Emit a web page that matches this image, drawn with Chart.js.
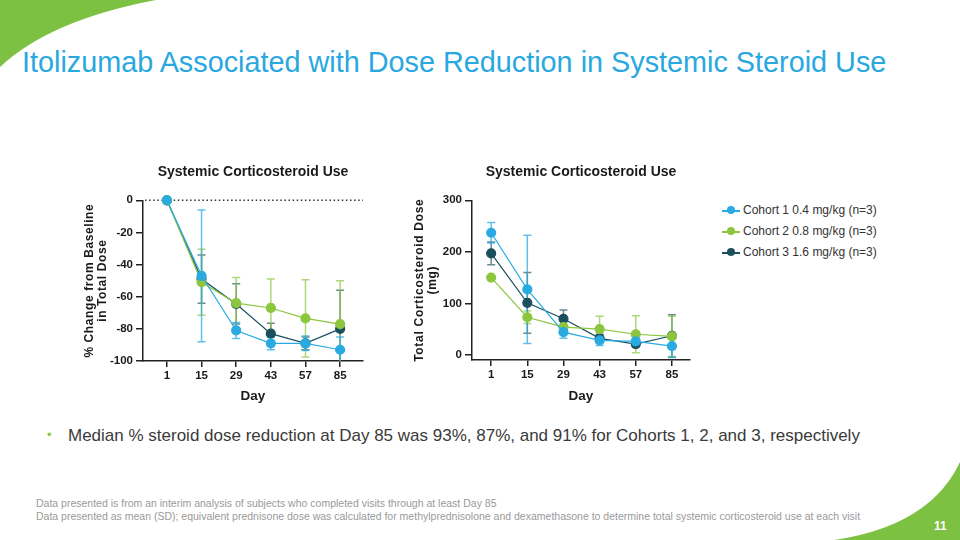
<!DOCTYPE html>
<html>
<head>
<meta charset="utf-8">
<script src="https://cdn.jsdelivr.net/npm/chart.js@4.4.1/dist/chart.umd.min.js"></script>
<style>
  html,body{margin:0;padding:0;background:#fff;}
  #slide{position:relative;width:960px;height:540px;overflow:hidden;background:#fff;font-family:"Liberation Sans",Arial,sans-serif;}
  #bg{position:absolute;left:0;top:0;}
  #title{position:absolute;left:22px;top:48px;font-size:28.8px;color:#29a8e0;white-space:nowrap;line-height:1;}
  #bullet{position:absolute;left:47px;top:427px;font-size:17px;color:#3a3a3a;white-space:nowrap;line-height:1.1;}
  #bullet .dot{color:#8cc63f;display:inline-block;width:21px;font-size:13px;vertical-align:2px;}
  .foot{position:absolute;left:36px;font-family:"Liberation Sans",Arial,sans-serif;font-size:10.5px;color:#9a9a9a;white-space:nowrap;line-height:1;}
  #page{position:absolute;left:934px;top:519px;color:#fff;font-weight:bold;font-size:12px;font-family:"Liberation Sans",Arial,sans-serif;}
  canvas.ch{position:absolute;}
  #legend{position:absolute;left:722px;top:202px;font-family:"Liberation Sans",Arial,sans-serif;font-size:12px;color:#333;}
  .li{position:relative;height:21px;line-height:16px;padding-left:21px;white-space:nowrap;}
  .li .ln{position:absolute;left:0;top:8px;width:18px;height:1.5px;}
  .li .pt{position:absolute;left:5px;top:4px;width:8px;height:8px;border-radius:50%;}
</style>
</head>
<body>
<div id="slide">
  <svg id="bg" width="960" height="540">
    <path d="M0,0 L156,0 Q50,20 0,67 Z" fill="#7dc143"/>
    <path d="M960,462 Q930,526 834,540 L960,540 Z" fill="#7dc143"/>
  </svg>
  <div id="title">Itolizumab Associated with Dose Reduction in Systemic Steroid Use</div>
  <canvas id="c1" class="ch" width="300" height="260" style="left:80px;top:150px;width:300px;height:260px"></canvas>
  <canvas id="c2" class="ch" width="300" height="260" style="left:410px;top:150px;width:300px;height:260px"></canvas>
  <div id="legend"></div>
  <div id="bullet"><span class="dot">•</span>Median % steroid dose reduction at Day 85 was 93%, 87%, and 91% for Cohorts 1, 2, and 3, respectively</div>
  <div class="foot" style="top:498px">Data presented is from an interim analysis of subjects who completed visits through at least Day 85</div>
  <div class="foot" style="top:511px">Data presented as mean (SD); equivalent prednisone dose was calculated for methylprednisolone and dexamethasone to determine total systemic corticosteroid use at each visit</div>
  <div id="page">11</div>
</div>
<script>
// ---- data ----
const days = ['1', '15', '29', '43', '57', '85'];
const cohortNames = ['Cohort 1 0.4 mg/kg (n=3)', 'Cohort 2 0.8 mg/kg (n=3)', 'Cohort 3 1.6 mg/kg (n=3)'];
const cohortColors = ['#29abe2', '#8cc63f', '#1c4f5e'];
const errColors = ['rgba(41,171,226,0.75)', 'rgba(140,198,63,0.7)', 'rgba(40,90,100,0.7)'];

// % change from baseline (mean, SD)
const pctC1 = [0, -47, -81, -89, -89, -93];
const pctC1sd = [0, 41, 5, 4, 4.5, 8];
const pctC2 = [0, -51, -64, -67, -73.5, -77];
const pctC2sd = [0, 20.5, 16, 18, 24, 27];
const pctC3 = [0, -49, -64.5, -83, -89, -80];
const pctC3sd = [0, 15, 12.5, 6.5, 4, 24];

// total corticosteroid dose, mg (mean, SD)
const doseC1 = [237, 127, 44, 28, 26, 17];
const doseC1sd = [20, 105, 12, 10, 6, 22];
const doseC2 = [150, 73, 54, 50, 40, 36];
const doseC2sd = [0, 12, 6, 25, 36, 39];
const doseC3 = [197, 101, 70, 32, 21, 37];
const doseC3sd = [22, 59, 17, 8, 5, 41];

const pctTicks = [0, -20, -40, -60, -80, -100];
const doseTicks = [0, 100, 200, 300];

// ---- helpers ----
const NARROW = '"Liberation Sans Narrow","Arial Narrow","Liberation Sans",Arial,sans-serif';
const WIDE = '"Liberation Sans",Arial,sans-serif';
const INK = '#1a1a1a';
Chart.defaults.font.family = NARROW;
Chart.defaults.color = INK;

function toPts(arr) { return arr.map((v, i) => ({x: i, y: v})); }

function mkDataset(i, means, sds) {
  return {
    label: cohortNames[i], data: toPts(means), sd: sds,
    borderColor: cohortColors[i], backgroundColor: cohortColors[i],
    pointBackgroundColor: cohortColors[i], pointBorderColor: cohortColors[i],
    errColor: errColors[i],
    borderWidth: 1.2, pointRadius: 4.5, pointHoverRadius: 4.5, tension: 0, clip: false
  };
}

const errorBars = {
  id: 'errorBars',
  beforeDatasetsDraw(chart) {
    const {ctx, chartArea, scales: {x, y}} = chart;
    const dsets = chart.data.datasets;
    ctx.save();
    for (let d = dsets.length - 1; d >= 0; d--) {
      const ds = dsets[d];
      if (!ds.sd) continue;
      ctx.strokeStyle = ds.errColor;
      ctx.lineWidth = 1.5;
      ds.data.forEach((p, j) => {
        const s = ds.sd[j];
        if (!s) return;
        const px = x.getPixelForValue(p.x);
        let top = y.getPixelForValue(p.y + s);
        let bot = y.getPixelForValue(p.y - s);
        const capTop = top >= chartArea.top - 0.5;
        const capBot = bot <= chartArea.bottom + 0.5;
        top = Math.max(top, chartArea.top);
        bot = Math.min(bot, chartArea.bottom);
        ctx.beginPath();
        ctx.moveTo(px, top); ctx.lineTo(px, bot);
        if (capTop) { ctx.moveTo(px - 4, top); ctx.lineTo(px + 4, top); }
        if (capBot) { ctx.moveTo(px - 4, bot); ctx.lineTo(px + 4, bot); }
        ctx.stroke();
      });
    }
    ctx.restore();
  }
};

const zeroLine = {
  id: 'zeroLine',
  beforeDatasetsDraw(chart, args, opts) {
    if (!opts.show) return;
    const {ctx, chartArea, scales: {y}} = chart;
    const py = y.getPixelForValue(0);
    ctx.save();
    ctx.strokeStyle = '#333';
    ctx.lineWidth = 1.5;
    ctx.setLineDash([1.5, 2.6]);
    ctx.beginPath();
    ctx.moveTo(chartArea.left + 2, py); ctx.lineTo(chartArea.right, py);
    ctx.stroke();
    ctx.restore();
  }
};

// spaced-out axis title (letter spacing on the canvas for the title only)
function spaceTitle(s, spacing) {
  if (s._spaced) return;
  const orig = s.drawTitle;
  s.drawTitle = function () {
    const c = this.ctx;
    const old = c.letterSpacing;
    c.letterSpacing = spacing;
    orig.apply(this, arguments);
    c.letterSpacing = old;
  };
  s._spaced = true;
}

function makeOptions(cfg) {
  return {
    responsive: false, animation: false, events: [],
    layout: {padding: {left: 0, right: cfg.padRight, top: 0, bottom: 0}},
    plugins: {
      legend: {display: false}, tooltip: {enabled: false},
      zeroLine: {show: cfg.zero},
      title: {
        display: true, text: 'Systemic Corticosteroid Use', fullSize: false,
        color: INK, font: {family: NARROW, size: 14, weight: 'bold', lineHeight: 1.2},
        padding: {top: 14, bottom: 19.5}
      }
    },
    scales: {
      x: {
        type: 'linear', min: cfg.xmin, max: cfg.xmax,
        afterFit(s) { s.height = cfg.xh; },
        afterBuildTicks(s) { s.ticks = days.map((d, i) => ({value: i})); },
        ticks: {callback: (v) => days[v], autoSkip: false, maxRotation: 0, padding: 2,
                color: INK, font: {size: 11.5, weight: 'bold'}},
        grid: {display: true, drawOnChartArea: false, drawTicks: true, tickLength: 6, color: '#222', lineWidth: 1.5},
        border: {display: true, color: '#222', width: 1.5},
        title: {display: true, text: 'Day', color: INK, font: {size: 13.5, weight: 'bold', lineHeight: 1.2}, padding: {top: 0, bottom: 6}}
      },
      y: {
        min: cfg.ymin, max: cfg.ymax,
        afterFit(s) { s.width = cfg.yw; spaceTitle(s, cfg.spacing); },
        afterBuildTicks(s) { s.ticks = cfg.yticks.map(v => ({value: v})); },
        ticks: {padding: 3, color: INK, font: {size: 11.5, weight: 'bold'}},
        grid: {display: true, drawOnChartArea: false, drawTicks: true, tickLength: 7, color: '#222', lineWidth: 1.5},
        border: {display: true, color: '#222', width: 1.5},
        title: {display: true, text: cfg.ytitle, color: INK,
                font: {family: WIDE, size: 12, weight: 'bold', lineHeight: 1.1}, padding: {top: 3, bottom: 0}}
      }
    }
  };
}

new Chart(document.getElementById('c1'), {
  type: 'line',
  data: {datasets: [mkDataset(0, pctC1, pctC1sd), mkDataset(1, pctC2, pctC2sd), mkDataset(2, pctC3, pctC3sd)]},
  options: makeOptions({padRight: 17, zero: true,
    xmin: -0.69, xmax: 5.66, xh: 49, ymin: -100, ymax: 0, yw: 63, yticks: pctTicks, spacing: '0.6px',
    ytitle: ['% Change from Baseline', 'in Total Dose']}),
  plugins: [errorBars, zeroLine]
});

new Chart(document.getElementById('c2'), {
  type: 'line',
  data: {datasets: [mkDataset(0, doseC1, doseC1sd), mkDataset(1, doseC2, doseC2sd), mkDataset(2, doseC3, doseC3sd)]},
  options: makeOptions({padRight: 20, zero: false,
    xmin: -0.53, xmax: 5.5, xh: 50, ymin: -10, ymax: 300, yw: 62, yticks: doseTicks, spacing: '0.7px',
    ytitle: ['Total Corticosteroid Dose', '(mg)']}),
  plugins: [errorBars, zeroLine]
});

// legend built from the series definitions
const leg = document.getElementById('legend');
cohortNames.forEach((n, i) => {
  const row = document.createElement('div');
  row.className = 'li';
  row.innerHTML = '<span class="ln" style="background:' + cohortColors[i] + '"></span><span class="pt" style="background:' + cohortColors[i] + '"></span>' + n;
  leg.appendChild(row);
});
</script>
</body>
</html>
